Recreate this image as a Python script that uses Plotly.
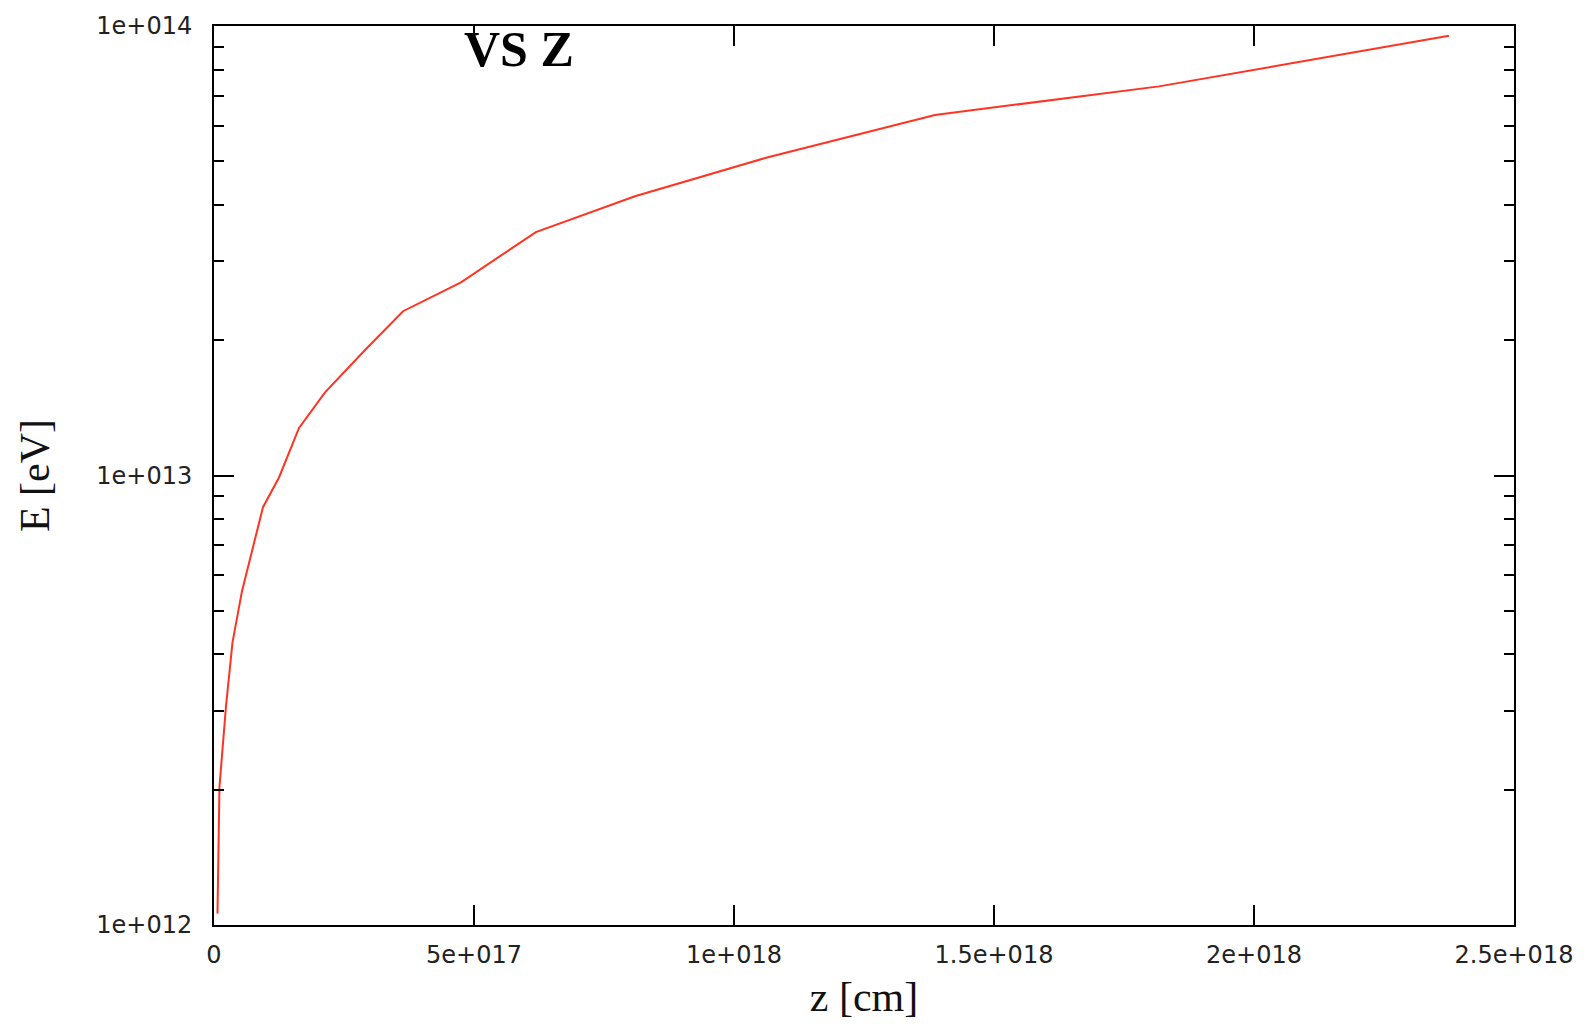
import plotly.graph_objects as go

# Data (z in cm, E in eV)
z_cm = [0.0067e18, 0.0105e18, 0.0231e18, 0.0355e18, 0.0538e18, 0.0942e18, 0.125e18,
        0.1635e18, 0.2135e18, 0.29e18, 0.3635e18, 0.475e18, 0.619e18, 0.8096e18, 1.0615e18,
        1.3865e18, 1.8173e18, 2.375e18]
E_eV = [1.06e12, 2.03e12, 3.07e12, 4.25e12, 5.53e12, 8.5e12, 9.9e12,
        1.276e13, 1.531e13, 1.9e13, 2.32e13, 2.69e13, 3.48e13, 4.18e13, 5.09e13,
        6.34e13, 7.34e13, 9.51e13]

x_tickvals = [0, 5e17, 1e18, 1.5e18, 2e18, 2.5e18]
x_ticktext = ["0", "5e+017", "1e+018", "1.5e+018", "2e+018", "2.5e+018"]
y_tickvals = [1e12, 1e13, 1e14]
y_ticktext = ["1e+012", "1e+013", "1e+014"]
y_minorvals = [m * 10 ** e for e in (12, 13) for m in range(2, 10)]

title_text = "VS Z"
x_title = "z [cm]"
y_title = "E [eV]"

fig = go.Figure()
fig.add_trace(go.Scatter(x=z_cm, y=E_eV, mode="lines",
                         line=dict(color="#ff3322", width=2), showlegend=False))

tickfont = dict(family="DejaVu Sans", size=24, color="#222222")
titlefont = dict(family="Liberation Serif", size=42, color="#111111")

T, B = 19, 97
fig.update_layout(
    width=1586, height=1024,
    margin=dict(l=214, r=72, t=T, b=B),
    paper_bgcolor="white", plot_bgcolor="white",
    xaxis=dict(range=[0, 2.5e18], tickmode="array", tickvals=x_tickvals, ticktext=x_ticktext,
               ticks="inside", ticklen=20, tickwidth=2, tickcolor="black",
               showline=True, linewidth=2, linecolor="black", mirror="ticks",
               showgrid=False, zeroline=False, tickfont=tickfont, ticklabelstandoff=7,
               title=dict(text=x_title, font=titlefont, standoff=14)),
    yaxis=dict(type="log", range=[12, 14], tickmode="array", tickvals=y_tickvals, ticktext=y_ticktext,
               ticks="inside", ticklen=20, tickwidth=2, tickcolor="black",
               minor=dict(tickmode="array", tickvals=y_minorvals, ticks="inside", ticklen=10,
                          tickwidth=2, tickcolor="black", showgrid=False),
               showline=True, linewidth=2, linecolor="black", mirror="ticks",
               showgrid=False, zeroline=False, tickfont=tickfont, ticklabelstandoff=15,
               title=dict(text=y_title, font=titlefont, standoff=34)),
    annotations=[dict(text="<b>" + title_text + "</b>",
                      x=(519 - 214) / 1300, y=1 - (42 - T) / (1024 - T - B),
                      xref="paper", yref="paper", showarrow=False,
                      font=dict(family="Liberation Serif", size=50, color="black"),
                      xanchor="center", yanchor="middle")],
)

fig.write_html("out.html")
